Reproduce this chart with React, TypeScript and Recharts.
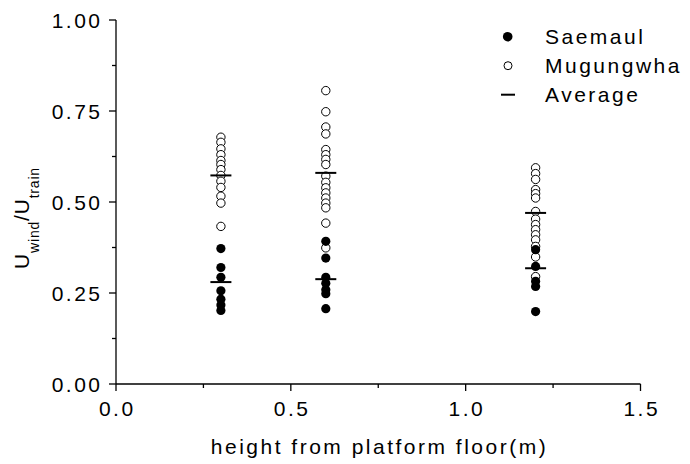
import { ScatterChart, Scatter, XAxis, YAxis } from "recharts";

const FONT = "'Liberation Sans', Arial, sans-serif";
const SPACING = 2.5;

// measured heights (m)
const heights = [0.3, 0.6, 1.2];

// Saemaul (filled dots)
const saemaulAt03 = [0.372, 0.32, 0.293, 0.256, 0.233, 0.217, 0.202];
const saemaulAt06 = [0.392, 0.346, 0.293, 0.277, 0.259, 0.248, 0.207];
const saemaulAt12 = [0.369, 0.323, 0.282, 0.268, 0.199];

// Mugungwha (open circles)
const mugungwhaAt03 = [
  0.678, 0.664, 0.646, 0.63, 0.614, 0.603, 0.589, 0.573, 0.557, 0.54, 0.516,
  0.497, 0.433,
];
const mugungwhaAt06 = [
  0.806, 0.748, 0.706, 0.687, 0.644, 0.63, 0.617, 0.603, 0.571, 0.554, 0.539,
  0.525, 0.511, 0.497, 0.484, 0.442, 0.374,
];
const mugungwhaAt12 = [
  0.594, 0.578, 0.562, 0.534, 0.523, 0.511, 0.474, 0.453, 0.438, 0.424, 0.41,
  0.396, 0.378, 0.349, 0.295,
];

// averages per height
const saemaulAverage = [0.28, 0.288, 0.318];
const mugungwhaAverage = [0.573, 0.58, 0.47];

const xTicks = [0, 0.25, 0.5, 0.75, 1, 1.25, 1.5];
const yTicks = [0, 0.125, 0.25, 0.375, 0.5, 0.625, 0.75, 0.875, 1];

const legendItems = ["Saemaul", "Mugungwha", "Average"];

const toPoints = (cols: number[][]) =>
  cols.flatMap((vals, i) => vals.map((v) => ({ x: heights[i], y: v })));

const saemaulData = toPoints([saemaulAt03, saemaulAt06, saemaulAt12]);
const mugungwhaData = toPoints([mugungwhaAt03, mugungwhaAt06, mugungwhaAt12]);
const averageData = [
  ...heights.map((h, i) => ({ x: h, y: saemaulAverage[i] })),
  ...heights.map((h, i) => ({ x: h, y: mugungwhaAverage[i] })),
];

const isMajor = (v: number, step: number) =>
  Math.abs(v / step - Math.round(v / step)) < 1e-6;

const YTick = ({ x, y, payload }: any) => {
  const major = isMajor(payload.value, 0.25);
  return (
    <g>
      <line x1={x} x2={x - (major ? 7 : 4)} y1={y} y2={y} stroke="#000" strokeWidth={1.3} />
      {major && (
        <text
          x={x - 16 + SPACING}
          y={y}
          dy="0.36em"
          textAnchor="end"
          fontSize={21}
          fontFamily={FONT}
          letterSpacing={SPACING}
          fill="#000"
        >
          {payload.value.toFixed(2)}
        </text>
      )}
    </g>
  );
};

const XTick = ({ x, y, payload }: any) => {
  const major = isMajor(payload.value, 0.5);
  return (
    <g>
      <line x1={x} x2={x} y1={y} y2={y + (major ? 7 : 4)} stroke="#000" strokeWidth={1.3} />
      {major && (
        <text
          x={x + SPACING / 2}
          y={y + 31.5}
          textAnchor="middle"
          fontSize={21}
          fontFamily={FONT}
          letterSpacing={SPACING}
          fill="#000"
        >
          {payload.value.toFixed(1)}
        </text>
      )}
    </g>
  );
};

const XLabel = ({ viewBox }: any) => (
  <text
    x={viewBox.x + viewBox.width / 2 + SPACING / 2}
    y={454.3}
    textAnchor="middle"
    fontSize={21}
    fontFamily={FONT}
    letterSpacing={SPACING}
    fill="#000"
  >
    height from platform floor(m)
  </text>
);

const YLabel = () => (
  <text
    x={29}
    y={218}
    transform="rotate(-90, 29, 218)"
    textAnchor="middle"
    fontSize={21}
    fontFamily={FONT}
    letterSpacing={0.8}
    fill="#000"
  >
    <tspan>U</tspan>
    <tspan fontSize={14} dy={10}>wind</tspan>
    <tspan dy={-10}>/U</tspan>
    <tspan fontSize={14} dy={10}>train</tspan>
  </text>
);

const FilledDot = ({ cx, cy }: any) => <circle cx={cx} cy={cy} r={4.6} fill="#000" />;
const OpenDot = ({ cx, cy }: any) => (
  <circle cx={cx} cy={cy} r={4.2} fill="#fff" stroke="#000" strokeWidth={1} />
);
const AvgDash = ({ cx, cy }: any) => (
  <line x1={cx - 10.5} x2={cx + 10.5} y1={cy} y2={cy} stroke="#000" strokeWidth={2} />
);

const Legend = () => (
  <svg
    width={195}
    height={95}
    style={{ position: "absolute", left: 495, top: 15 }}
  >
    {legendItems.map((name, i) => {
      const cy = 21.7 + i * 29;
      return (
        <g key={name}>
          {i === 0 && <circle cx={12.7} cy={cy} r={4.8} fill="#000" />}
          {i === 1 && <circle cx={13} cy={cy} r={4} fill="#fff" stroke="#000" strokeWidth={1} />}
          {i === 2 && <line x1={6} x2={20} y1={cy} y2={cy} stroke="#000" strokeWidth={2} />}
          <text
            x={50}
            y={cy + 7.6}
            fontSize={21}
            fontFamily={FONT}
            letterSpacing={SPACING}
            fill="#000"
          >
            {name}
          </text>
        </g>
      );
    })}
  </svg>
);

export default function App() {
  return (
    <div style={{ position: "absolute", left: 0, top: 0, width: 690, height: 464, background: "#fff" }}>
      <ScatterChart
        width={690}
        height={464}
        margin={{ top: 20, right: 49.5, bottom: 0, left: 0 }}
      >
        <XAxis
          type="number"
          dataKey="x"
          domain={[0, 1.5]}
          ticks={xTicks}
          interval={0}
          height={80}
          tickSize={0}
          tickMargin={0}
          tickLine={false}
          tick={<XTick />}
          axisLine={{ stroke: "#000", strokeWidth: 1.3 }}
          label={<XLabel />}
        />
        <YAxis
          type="number"
          dataKey="y"
          domain={[0, 1]}
          ticks={yTicks}
          interval={0}
          width={116}
          tickSize={0}
          tickMargin={0}
          tickLine={false}
          tick={<YTick />}
          axisLine={{ stroke: "#000", strokeWidth: 1.3 }}
          label={<YLabel />}
        />
        <Scatter data={mugungwhaData} shape={<OpenDot />} isAnimationActive={false} />
        <Scatter data={saemaulData} shape={<FilledDot />} isAnimationActive={false} />
        <Scatter data={averageData} shape={<AvgDash />} isAnimationActive={false} />
      </ScatterChart>
      <Legend />
    </div>
  );
}
